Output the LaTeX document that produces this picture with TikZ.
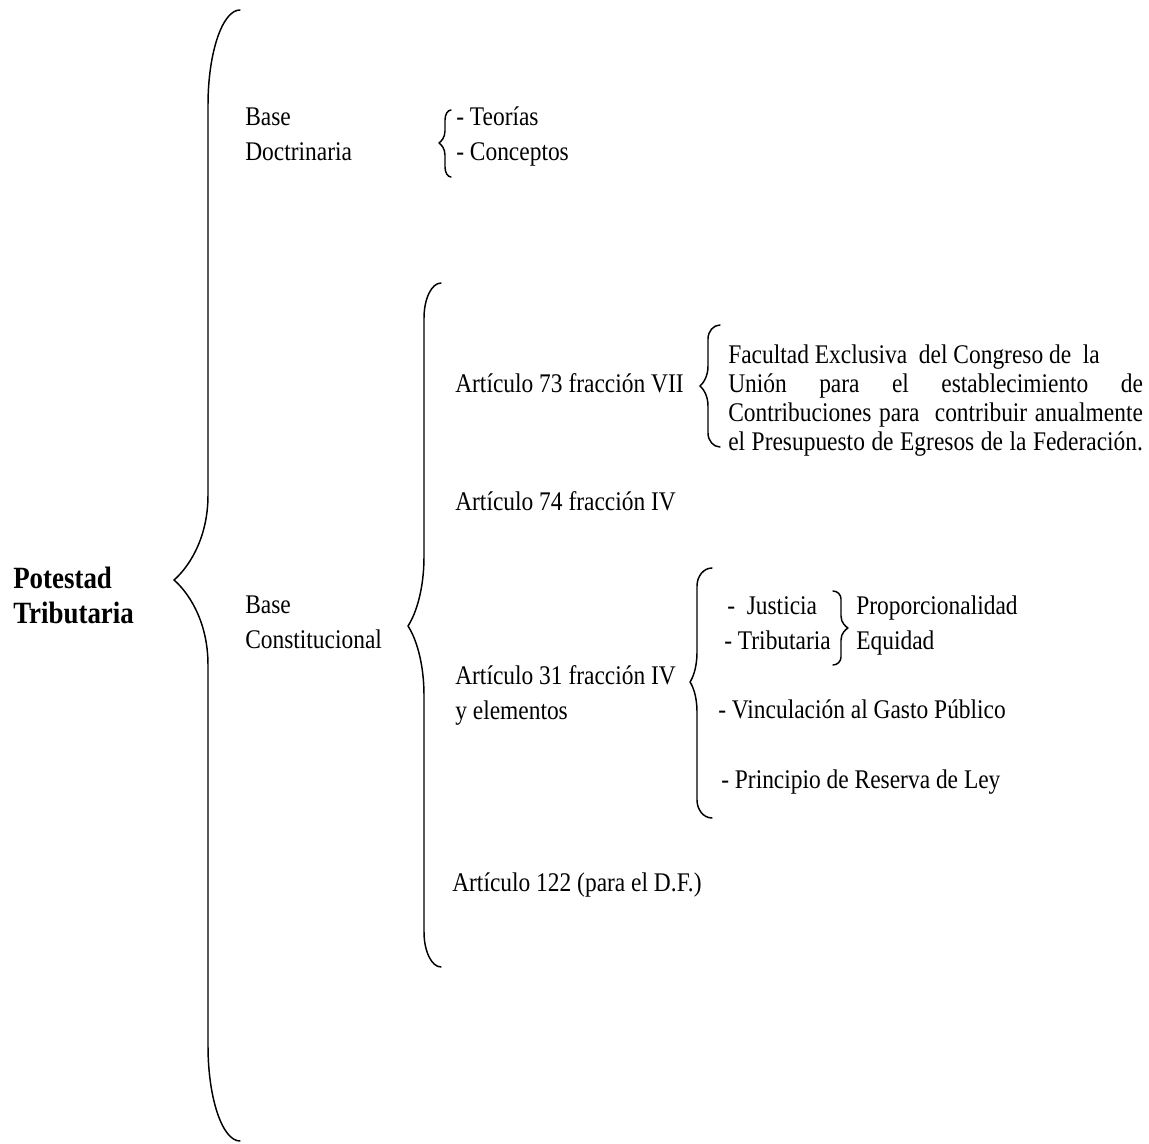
\documentclass[tikz,border=0pt]{standalone}
\usepackage{fontspec}
\setmainfont[FakeStretch=0.87]{Liberation Serif}
% #1 tip x, #2 tip y, #3 spine x, #4 end x, #5 top y, #6 bottom y,
% #7 length of the end curls, #8 length of the curves into the tip
\newcommand{\drawbracket}[8]{%
  \draw[bracepath] (#4,#5)
    .. controls ({#3+0.45*(#4-#3)},{#5}) and ({#3},{#5+0.45*#7}) .. ({#3},{#5+#7})
    -- ({#3},{#2-#8})
    .. controls ({#3},{#2-0.45*#8}) and ({#1+0.35*(#3-#1)},{#2-0.12*#8}) .. ({#1},{#2})
    .. controls ({#1+0.35*(#3-#1)},{#2+0.12*#8}) and ({#3},{#2+0.45*#8}) .. ({#3},{#2+#8})
    -- ({#3},{#6-#7})
    .. controls ({#3},{#6-0.45*#7}) and ({#3+0.45*(#4-#3)},{#6}) .. (#4,#6);}
\begin{document}
\begin{tikzpicture}[x=0.75pt,y=-0.75pt,
  txt/.style={anchor=base west,inner sep=0pt,font=\fontsize{20.2}{24}\selectfont},
  head/.style={anchor=base west,inner sep=0pt,font=\fontsize{23.2}{28}\selectfont\bfseries},
  bracepath/.style={line width=1.1pt,line cap=round,line join=round}]
\useasboundingbox (0,0) rectangle (1149,1144);

% root
\node[head] (pot) at (13,588) {Potestad};
\node[head] (trib) at (13,623) {Tributaria};
\drawbracket{174}{580}{208}{240}{10}{1141}{95}{85}

% doctrinal base
\node[txt] (bd1) at (245,126) {Base};
\node[txt] (bd2) at (245,161) {Doctrinaria};
\drawbracket{439}{143}{445}{451}{110}{177}{10}{12}
\node[txt] (teo) at (456,126) {- Teorías};
\node[txt] (con) at (456,161) {- Conceptos};

% constitutional base
\node[txt] (bc1) at (245,613) {Base};
\node[txt] (bc2) at (245,648) {Constitucional};
\drawbracket{408}{626}{424}{441}{283}{967}{35}{70}

% article 73
\node[txt] (a73) at (455,393) {Artículo 73 fracción VII};
\drawbracket{700}{386}{708}{720}{325}{447}{14}{20}
\node[txt] (f1) at (728,364) {Facultad Exclusiva\ \ del Congreso de\ \ la};
\node[txt] (f2) at (728,393) {\makebox[311pt][s]{Unión para el establecimiento de}};
\node[txt] (f3) at (728,422) {\makebox[311pt][s]{Contribuciones para\ \ contribuir anualmente}};
\node[txt] (f4) at (728,451) {\makebox[311pt][s]{el Presupuesto de Egresos de la Federación.}};

% article 74
\node[txt] (a74) at (455,510) {Artículo 74 fracción IV};

% article 31
\node[txt] (a31a) at (455,684) {Artículo 31 fracción IV};
\node[txt] (a31b) at (455,719) {y elementos};
\drawbracket{690}{682}{697}{712}{568}{818}{18}{30}
\node[txt] (jus) at (727,614) {-\ \ Justicia};
\node[txt] (tri) at (724,649) {- Tributaria};
\drawbracket{848}{628}{841}{833}{591}{665}{8}{12}
\node[txt] (pro) at (856,614) {Proporcionalidad};
\node[txt] (equ) at (856,649) {Equidad};
\node[txt] (vin) at (718,718) {- Vinculación al Gasto Público};
\node[txt] (pri) at (721,788) {- Principio de Reserva de Ley};

% article 122
\node[txt] (a122) at (452,891) {Artículo 122 (para el D.F.)};
\end{tikzpicture}
\end{document}
